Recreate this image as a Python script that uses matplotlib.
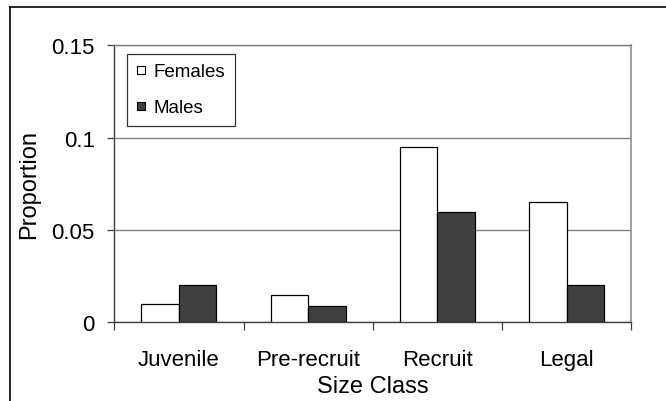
import matplotlib
matplotlib.use("Agg")
import matplotlib.pyplot as plt
from matplotlib.lines import Line2D
from matplotlib.patches import Rectangle
from matplotlib.legend_handler import HandlerPatch
import numpy as np

plt.rcParams['font.family'] = ['Liberation Sans', 'DejaVu Sans']

categories = ["Juvenile", "Pre-recruit", "Recruit", "Legal"]
females = [0.010, 0.015, 0.095, 0.065]
males = [0.020, 0.009, 0.060, 0.020]
yticks = [0, 0.05, 0.1, 0.15]
ytick_labels = ["0", "0.05", "0.1", "0.15"]


class SquareHandler(HandlerPatch):
    """Draws a small square key centred in the legend handle box."""

    def create_artists(self, legend, orig_handle, xdescent, ydescent,
                       width, height, fontsize, trans):
        side = 8.0 * 72 / 100  # about 8 px
        x0 = -xdescent + (width - side) / 2
        y0 = -ydescent + (height - side) / 2
        p = Rectangle((x0, y0), side, side,
                      facecolor=orig_handle.get_facecolor(),
                      edgecolor="black", linewidth=0.8, transform=trans)
        return [p]


fig = plt.figure(figsize=(6.66, 4.02), dpi=100)
ax = fig.add_axes([0.1716, 0.1958, 0.7763, 0.6888])

x = np.arange(len(categories))
w = 0.29
ax.bar(x - w / 2, females, width=w, color="white", edgecolor="black",
       linewidth=0.9, label="Females", zorder=3)
ax.bar(x + w / 2, males, width=w, color="#404040", edgecolor="black",
       linewidth=0.9, label="Males", zorder=3)

ax.set_xlim(-0.5, len(categories) - 0.5)
ax.set_ylim(0, 0.15)
ax.set_yticks(yticks)
ax.set_yticklabels(ytick_labels, fontsize=16)
ax.yaxis.grid(True, color="#808080", linewidth=1.0)
ax.set_axisbelow(True)

# category boundary ticks on the x axis, labels centred between them
ax.set_xticks(np.arange(-0.5, len(categories), 1.0))
ax.set_xticklabels([])
ax.set_xticks(x, minor=True)
ax.set_xticklabels(categories, minor=True, fontsize=16)
ax.tick_params(axis="x", which="major", direction="out", length=6,
               width=0.9, color="#404040")
ax.tick_params(axis="x", which="minor", length=0, pad=19)
ax.tick_params(axis="y", direction="out", length=5, width=0.9,
               color="#404040", pad=9)

for side in ("left", "bottom"):
    ax.spines[side].set_color("#404040")
    ax.spines[side].set_linewidth(1.0)
ax.spines["right"].set_color("#909090")
ax.spines["right"].set_linewidth(1.2)
ax.spines["top"].set_color("#808080")
ax.spines["top"].set_linewidth(1.0)

ax.set_xlabel("Size Class", fontsize=17, labelpad=4)
ax.set_ylabel("Proportion", fontsize=17, labelpad=8)

handles, labels = ax.get_legend_handles_labels()
key_patches = [h.patches[0] for h in handles]
leg = ax.legend(key_patches, labels, loc="upper left",
                bbox_to_anchor=(0.0251, 0.969),
                borderaxespad=0, fontsize=13.5, frameon=True, fancybox=False,
                handlelength=0.5, handleheight=0.7, handletextpad=0.4,
                labelspacing=1.0, borderpad=0.5,
                handler_map={Rectangle: SquareHandler()})
leg.get_frame().set_edgecolor("black")
leg.get_frame().set_linewidth(0.9)

# outer frame around the chart (left and top edges)
fig.add_artist(Line2D([9.7 / 666, 9.7 / 666], [0, 1 - 8 / 402],
                      transform=fig.transFigure, color="black", linewidth=1.2))
fig.add_artist(Line2D([9.7 / 666, 1], [1 - 8 / 402, 1 - 8 / 402],
                      transform=fig.transFigure, color="black", linewidth=1.2))

fig.savefig("out.png", dpi=100)
